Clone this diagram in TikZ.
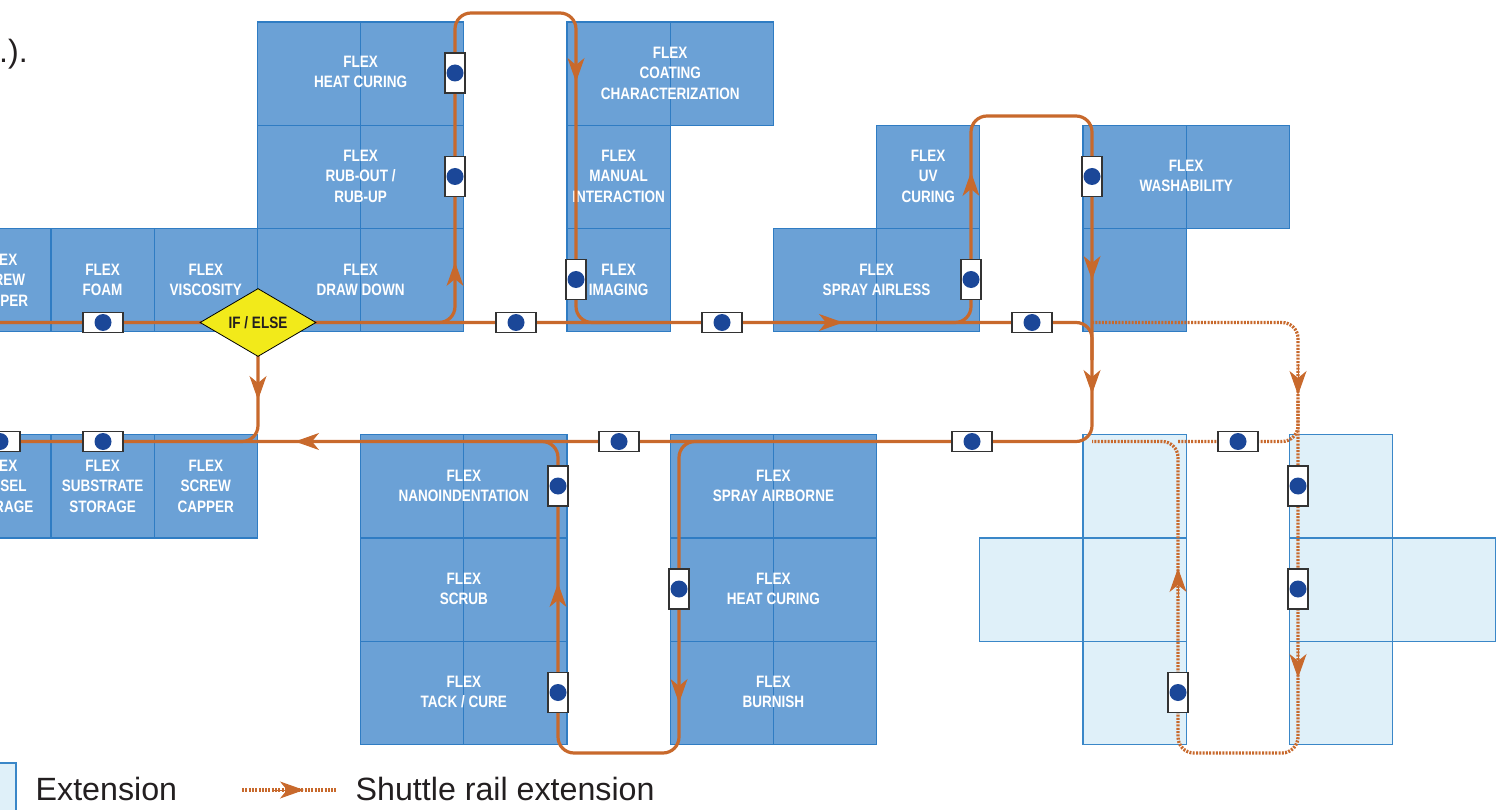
\documentclass[tikz,border=0pt]{standalone}
\usepackage{fontspec}
\setmainfont{Liberation Sans}
\newfontfamily\condfont[FakeStretch=0.82]{Liberation Sans}
\usetikzlibrary{shapes.geometric,arrows.meta}
\definecolor{railc}{HTML}{C8692C}
\definecolor{cellfill}{HTML}{6BA1D6}
\definecolor{cellline}{HTML}{2F7CC3}
\definecolor{extfill}{HTML}{DFF0F9}
\definecolor{extline}{HTML}{3A87C8}
\definecolor{dotblue}{HTML}{1B4798}
\definecolor{ifyellow}{HTML}{F2EA1A}
\definecolor{txtdark}{HTML}{231F20}
\begin{document}
\begin{tikzpicture}[x=1pt,y=-1pt,
  modcell/.style={draw=cellline,fill=cellfill,line width=1.2pt},
  extcell/.style={draw=extline,fill=extfill,line width=1.2pt},
  modtext/.style={text=white,font=\condfont\bfseries\fontsize{16.5}{20.5}\selectfont,align=center,inner sep=0pt},
  rail/.style={draw=railc,line width=3.2pt,rounded corners=16pt},
  extrail/.style={draw=railc,line width=3.3pt,dash pattern=on 2pt off 1.3pt,rounded corners=16pt},
  amark/.style={draw=railc,fill=railc,line width=1pt,-{Stealth[length=24pt,width=17pt,inset=7pt]}},
  hshut/.style={rectangle,draw=black!80,line width=1.1pt,fill=white,minimum width=40pt,minimum height=20pt,inner sep=0pt,
    path picture={\fill[dotblue] (path picture bounding box.center) circle[radius=8.5pt];}},
  vshut/.style={rectangle,draw=black!80,line width=1.1pt,fill=white,minimum width=20pt,minimum height=40pt,inner sep=0pt,
    path picture={\fill[dotblue] (path picture bounding box.center) circle[radius=8.5pt];}},
  ifdiamond/.style={diamond,draw=black,line width=0.8pt,fill=ifyellow,minimum width=116pt,minimum height=68pt,aspect=1.7,inner sep=0pt,
    text=txtdark,font=\condfont\bfseries\fontsize{16.5}{20}\selectfont},
  legtext/.style={text=txtdark,font=\fontsize{32.2}{36}\selectfont,inner sep=0pt}
]
\useasboundingbox (0,0) rectangle (1509,810);
\clip (0,0) rectangle (1509,810);
% module cells
\foreach \c/\r in {2/0,3/0,5/0,6/0,
                   2/1,3/1,5/1,8/1,10/1,11/1,
                   -1/2,0/2,1/2,2/2,3/2,5/2,7/2,8/2,10/2,
                   -1/4,0/4,1/4,3/4,4/4,6/4,7/4,
                   3/5,4/5,6/5,7/5,
                   3/6,4/6,6/6,7/6}
  \path[modcell] ({51+103.2*\c},{22+103.2*\r}) rectangle ++(103.2,103.2);
% extension cells
\foreach \c/\r in {10/4,12/4,9/5,10/5,12/5,13/5,10/6,12/6}
  \path[extcell] ({51+103.2*\c},{22+103.2*\r}) rectangle ++(103.2,103.2);
% module texts
\node[modtext] (heatA) at (360.6,72) {FLEX\\HEAT CURING};
\node[modtext] (coat) at (670.2,73) {FLEX\\COATING\\CHARACTERIZATION};
\node[modtext] (rub) at (360.6,176) {FLEX\\RUB-OUT /\\RUB-UP};
\node[modtext] (manual) at (618.6,176) {FLEX\\MANUAL\\INTERACTION};
\node[modtext] (uv) at (928.2,176) {FLEX\\UV\\CURING};
\node[modtext] (wash) at (1186.2,176) {FLEX\\WASHABILITY};
\node[modtext] (capA) at (0,280) {FLEX\\SCREW\\CAPPER};
\node[modtext] (foam) at (102.6,280) {FLEX\\FOAM};
\node[modtext] (visc) at (205.8,280) {FLEX\\VISCOSITY};
\node[modtext] (drawdown) at (360.6,280) {FLEX\\DRAW DOWN};
\node[modtext] (imaging) at (618.6,280) {FLEX\\IMAGING};
\node[modtext] (airless) at (876.6,280) {FLEX\\SPRAY AIRLESS};
\node[modtext] (vessel) at (0,486) {FLEX\\VESSEL\\STORAGE};
\node[modtext] (substrate) at (102.6,486) {FLEX\\SUBSTRATE\\STORAGE};
\node[modtext] (capB) at (205.8,486) {FLEX\\SCREW\\CAPPER};
\node[modtext] (nano) at (463.8,486) {FLEX\\NANOINDENTATION};
\node[modtext] (scrub) at (463.8,589) {FLEX\\SCRUB};
\node[modtext] (tack) at (463.8,692) {FLEX\\TACK / CURE};
\node[modtext] (airborne) at (773.4,486) {FLEX\\SPRAY AIRBORNE};
\node[modtext] (heatB) at (773.4,589) {FLEX\\HEAT CURING};
\node[modtext] (burnish) at (773.4,692) {FLEX\\BURNISH};
% rails
\draw[rail] (-10,322.5) -- (1092,322.5) -- (1092,441.5) -- (-10,441.5);
\draw[rail] (430,322.5) -- (455,322.5) -- (455,13) -- (576,13) -- (576,322.5) -- (610,322.5);
\draw[rail] (940,322.5) -- (971,322.5) -- (971,116) -- (1092,116) -- (1092,360);
\draw[rail] (258,340) -- (258,441.5) -- (220,441.5);
\draw[rail] (520,441.5) -- (558,441.5) -- (558,753) -- (679,753) -- (679,441.5) -- (720,441.5);
\draw[extrail] (1092,322.5) -- (1298,322.5) -- (1298,753) -- (1178,753) -- (1178,441.5) -- (1092,441.5);
\draw[extrail] (1178,441.5) -- (1298,441.5) -- (1298,400);
% direction marks
\draw[amark] (455,292) -- (455,262);
\draw[amark] (576,52) -- (576,82);
\draw[amark] (813,322.5) -- (843,322.5);
\draw[amark] (971,202) -- (971,172);
\draw[amark] (1092,250) -- (1092,280);
\draw[amark] (1092,363) -- (1092,394);
\draw[amark] (325,441.5) -- (295,441.5);
\draw[amark] (258,370) -- (258,400);
\draw[amark] (558,613) -- (558,583);
\draw[amark] (679,673) -- (679,703);
\draw[amark] (1298,364) -- (1298,395);
\draw[amark] (1298,648) -- (1298,678);
\draw[amark] (1178,598) -- (1178,568);
% decision
\node[ifdiamond] (ifelse) at (258,322.5) {IF / ELSE};
% shuttles
\foreach \x/\y in {103/322.5,516/322.5,722/322.5,1032/322.5,0/441.5,103/441.5,619/441.5,972/441.5,1238/441.5}
  \node[hshut] at (\x,\y) {};
\foreach \x/\y in {455/73,455/176.5,576/279.5,971/279.5,1092/176.5,558/486,558/692.5,679/589,1298/486,1298/589,1178/692.5}
  \node[vshut] at (\x,\y) {};
% fragment of text
\node[legtext,anchor=base west] (frag) at (-1,63) {.).};
% legend
\path[extcell] (-87,763) rectangle (16,866);
\node[legtext,anchor=base west] (legext) at (35.5,800) {Extension};
\coordinate (lgA) at (242,790);
\coordinate (lgB) at (337,790);
\draw[extrail] (lgA) -- (lgB);
\draw[amark] (273,790) -- (304,790);
\node[legtext,anchor=base west] (legshut) at (355.5,800) {Shuttle rail extension};
\end{tikzpicture}
\end{document}
